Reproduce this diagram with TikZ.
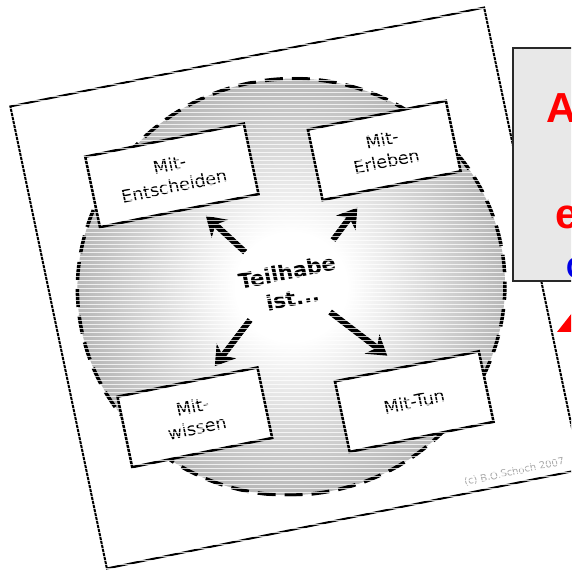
\documentclass[tikz,border=0pt]{standalone}
\usepackage{fontspec}
\setmainfont{DejaVu Sans}
\newfontfamily\arialfont{Liberation Sans}
\usepackage{tikz}
\usetikzlibrary{arrows.meta}

\definecolor{kasten}{RGB}{232,232,232}
\definecolor{kastenrand}{RGB}{40,40,40}
\definecolor{linkblau}{RGB}{0,0,230}

\pgfdeclareradialshading{kreisgrau}{\pgfpoint{0bp}{0bp}}{%
  color(0bp)=(white); color(6bp)=(white); color(26bp)=(black!33); color(50bp)=(black!36)}

\tikzset{
  feld/.style={draw,fill=white,line width=2.5pt,align=center,minimum height=72pt,
    font=\fontsize{17.5}{22}\selectfont},
  pfeil/.style={line width=6pt,-{Stealth[length=19pt,width=24pt,inset=6pt]}},
  streifen/.style={white,line width=0.8pt,opacity=0.75},
  rotbuchstabe/.style={text=red,font=\arialfont\bfseries\fontsize{42}{42}\selectfont,
    anchor=base west,inner sep=0pt},
}

\begin{document}
\begin{tikzpicture}[x=1pt,y=1pt]
  %\draw[step=10pt,gray,very thin] (0,0) grid (571,572);
  \clip (0,0) rectangle (571,572);
  \fill[white] (0,0) rectangle (571,572);

  \begin{scope}[shift={(295.5,284)},rotate=11.8,transform shape]
    \draw[line width=2pt] (-242,-236) rectangle (242,236);

    \shade[shading=kreisgrau] (-4,2) ellipse [x radius=214,y radius=208];
    \draw[line width=3.5pt,dash pattern=on 18pt off 9pt] (-4,2) ellipse [x radius=214,y radius=208];

    \node[feld,minimum width=162pt] (entscheiden) at (-98,135.5) {Mit-\\Entscheiden};
    \node[feld,minimum width=141pt] (erleben) at (115,116.5) {Mit-\\Erleben};
    \node[feld,minimum width=143pt] (wissen) at (-125,-106) {Mit-\\wissen};
    \node[feld,minimum width=147pt] (tun) at (93,-135.5) {Mit-Tun};

    \node[font=\bfseries\fontsize{21}{27}\selectfont,align=center] (teilhabe) at (-5,4) {Teilhabe\\ist...};

    \coordinate (s1) at (-42,45.5);  \coordinate (z1) at (-73,89);
    \coordinate (s2) at (46.5,39.3); \coordinate (z2) at (77,66);
    \coordinate (s3) at (-51,-22);   \coordinate (z3) at (-95,-60);
    \coordinate (s4) at (29,-30.6);  \coordinate (z4) at (76,-85);
    \draw[pfeil] (s1) -- (z1);
    \draw[pfeil] (s2) -- (z2);
    \draw[pfeil] (s3) -- (z3);
    \draw[pfeil] (s4) -- (z4);

    \node[text=gray!70,font=\fontsize{10}{12}\selectfont,anchor=base west] (copyright) at (122,-228) {(c) B.O.Schoch 2007};

    % scan lines
    \clip (-244,-238) rectangle (244,238);
    \begin{scope}[rotate=-11.8]
      \foreach \y in {-400,-396,...,400}
        \draw[streifen] (-400,\y) -- (400,\y);
    \end{scope}
  \end{scope}

  \node[draw=kastenrand,fill=kasten,line width=2pt,minimum width=80pt,minimum height=233pt,anchor=north west] (hinweis) at (512,525) {};
  \node[rotbuchstabe] (buchA) at (546,449) {A};
  \node[rotbuchstabe] (buchE) at (555,343) {e};
  \node[text=linkblau,font=\arialfont\bfseries\fontsize{30}{30}\selectfont,anchor=base west,inner sep=0pt] (buchC) at (566,293) {C};
  \fill[red] (557,240) -- (572,259) -- (572,240) -- cycle;

\end{tikzpicture}
\end{document}
